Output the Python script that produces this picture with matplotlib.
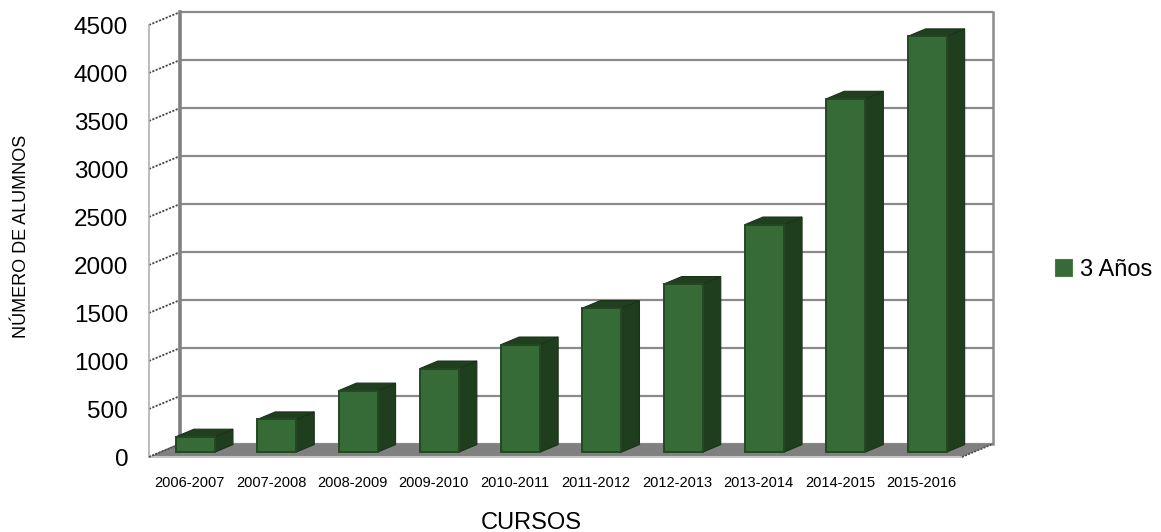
import matplotlib
matplotlib.use("Agg")
import matplotlib.pyplot as plt
from matplotlib.patches import Polygon, Rectangle, Patch

plt.rcParams['font.family'] = ['Liberation Sans', 'DejaVu Sans']

# Data
cursos = ["2006-2007", "2007-2008", "2008-2009", "2009-2010", "2010-2011",
          "2011-2012", "2012-2013", "2013-2014", "2014-2015", "2015-2016"]
alumnos = [160, 340, 640, 870, 1120, 1500, 1750, 2370, 3680, 4330]
serie = "3 Años"
yticks = [0, 500, 1000, 1500, 2000, 2500, 3000, 3500, 4000, 4500]

# Pseudo-3D geometry (data units)
DX, DY = 0.381, 135.0          # offset from front plane to back wall
T0, T1 = 0.38, 0.96            # depth of bar front / back face
BAR_W = 0.48
BAR_SHIFT = -0.313

FRONT = "#366a36"
FRONT_EDGE = "#244824"
SIDE = "#1e3e1e"
TOP = "#1f3f1f"
GRID = "#8a8a8a"

fig = plt.figure(figsize=(11.61, 5.32), dpi=100)
ax = fig.add_axes([149 / 1161, 75 / 532, 813 / 1161, 432 / 532])
ax.set_xlim(-0.5, 9.5)
ax.set_ylim(0, 4500)
for s in ax.spines.values():
    s.set_visible(False)

x0, x1 = -0.5, len(cursos) - 0.5
ymax = yticks[-1]

# Back wall gridlines
for v in yticks:
    ax.plot([x0 + DX, x1 + DX], [v + DY, v + DY], color=GRID, lw=1.6,
            clip_on=False, zorder=1, solid_capstyle='butt')
    # side wall connectors
    ax.plot([x0, x0 + DX], [v, v + DY], color="#4a4a4a", lw=1.3,
            ls=(0, (1.2, 0.8)), clip_on=False, zorder=1)

# Back wall edges
ax.plot([x0 + DX, x0 + DX], [DY, ymax + DY], color="#808080", lw=2.6,
        clip_on=False, zorder=1)
ax.plot([x1 + DX, x1 + DX], [DY, ymax + DY], color="#8c8c8c", lw=1.8,
        clip_on=False, zorder=1)
# Front axis line
ax.plot([x0, x0], [0, ymax], color="#b0b0b0", lw=1.2, clip_on=False, zorder=1)

# Floor
floor = Polygon([(x0, 0), (x1, 0), (x1 + DX, DY), (x0 + DX, DY)],
                closed=True, facecolor="#808080", edgecolor="none",
                clip_on=False, zorder=2)
ax.add_patch(floor)
ax.plot([x0, x1], [0, 0], color="#c4c4c4", lw=1.5, clip_on=False, zorder=2)
ax.plot([x1, x1 + DX], [0, DY], color="#4a4a4a", lw=1.2,
        ls=(0, (1.2, 0.8)), clip_on=False, zorder=2)
ax.plot([x0, x0 + DX], [0, DY], color="#4a4a4a", lw=1.2,
        ls=(0, (1.2, 0.8)), clip_on=False, zorder=2)

# Bars
sdx = (T1 - T0) * DX
sdy = (T1 - T0) * DY
for i, v in enumerate(alumnos):
    xl = i + BAR_SHIFT + T0 * DX
    xr = xl + BAR_W
    b = T0 * DY
    side = Polygon([(xr, b), (xr + sdx, b + sdy), (xr + sdx, b + sdy + v),
                    (xr, b + v)], closed=True, facecolor=SIDE,
                   edgecolor="#1a331a", lw=0.8, clip_on=False, zorder=3)
    top = Polygon([(xl, b + v), (xr, b + v), (xr + sdx, b + v + sdy),
                   (xl + sdx, b + v + sdy)], closed=True, facecolor=TOP,
                  edgecolor="#1a331a", lw=0.8, clip_on=False, zorder=3)
    front = Rectangle((xl, b), BAR_W, v, facecolor=FRONT,
                      edgecolor=FRONT_EDGE, lw=1.4, clip_on=False, zorder=4)
    ax.add_patch(side)
    ax.add_patch(top)
    ax.add_patch(front)

# Ticks
ax.set_yticks(yticks)
ax.set_yticklabels([str(t) for t in yticks], fontsize=17.5)
ax.set_xticks(range(len(cursos)))
ax.set_xticklabels(cursos, fontsize=10.5)
ax.tick_params(axis='y', length=0, pad=15)
ax.tick_params(axis='x', length=0, pad=14)

fig.text(22 / 1161, 1 - 236 / 532, "NÚMERO DE ALUMNOS", rotation=90,
         ha='center', va='center', fontsize=13)
fig.text(531 / 1161, 1 - 523 / 532, "CURSOS", ha='center', va='center',
         fontsize=17)

handle = Patch(facecolor=FRONT, edgecolor="#4d7a4d", lw=0.8)
fig.legend([handle], [serie], loc='center left',
           bbox_to_anchor=(1055 / 1161, 1 - 270 / 532), frameon=False,
           fontsize=17, handlelength=0.72, handleheight=0.72,
           handletextpad=0.34, borderpad=0, borderaxespad=0)

fig.savefig("out.png", dpi=100, facecolor="white")
